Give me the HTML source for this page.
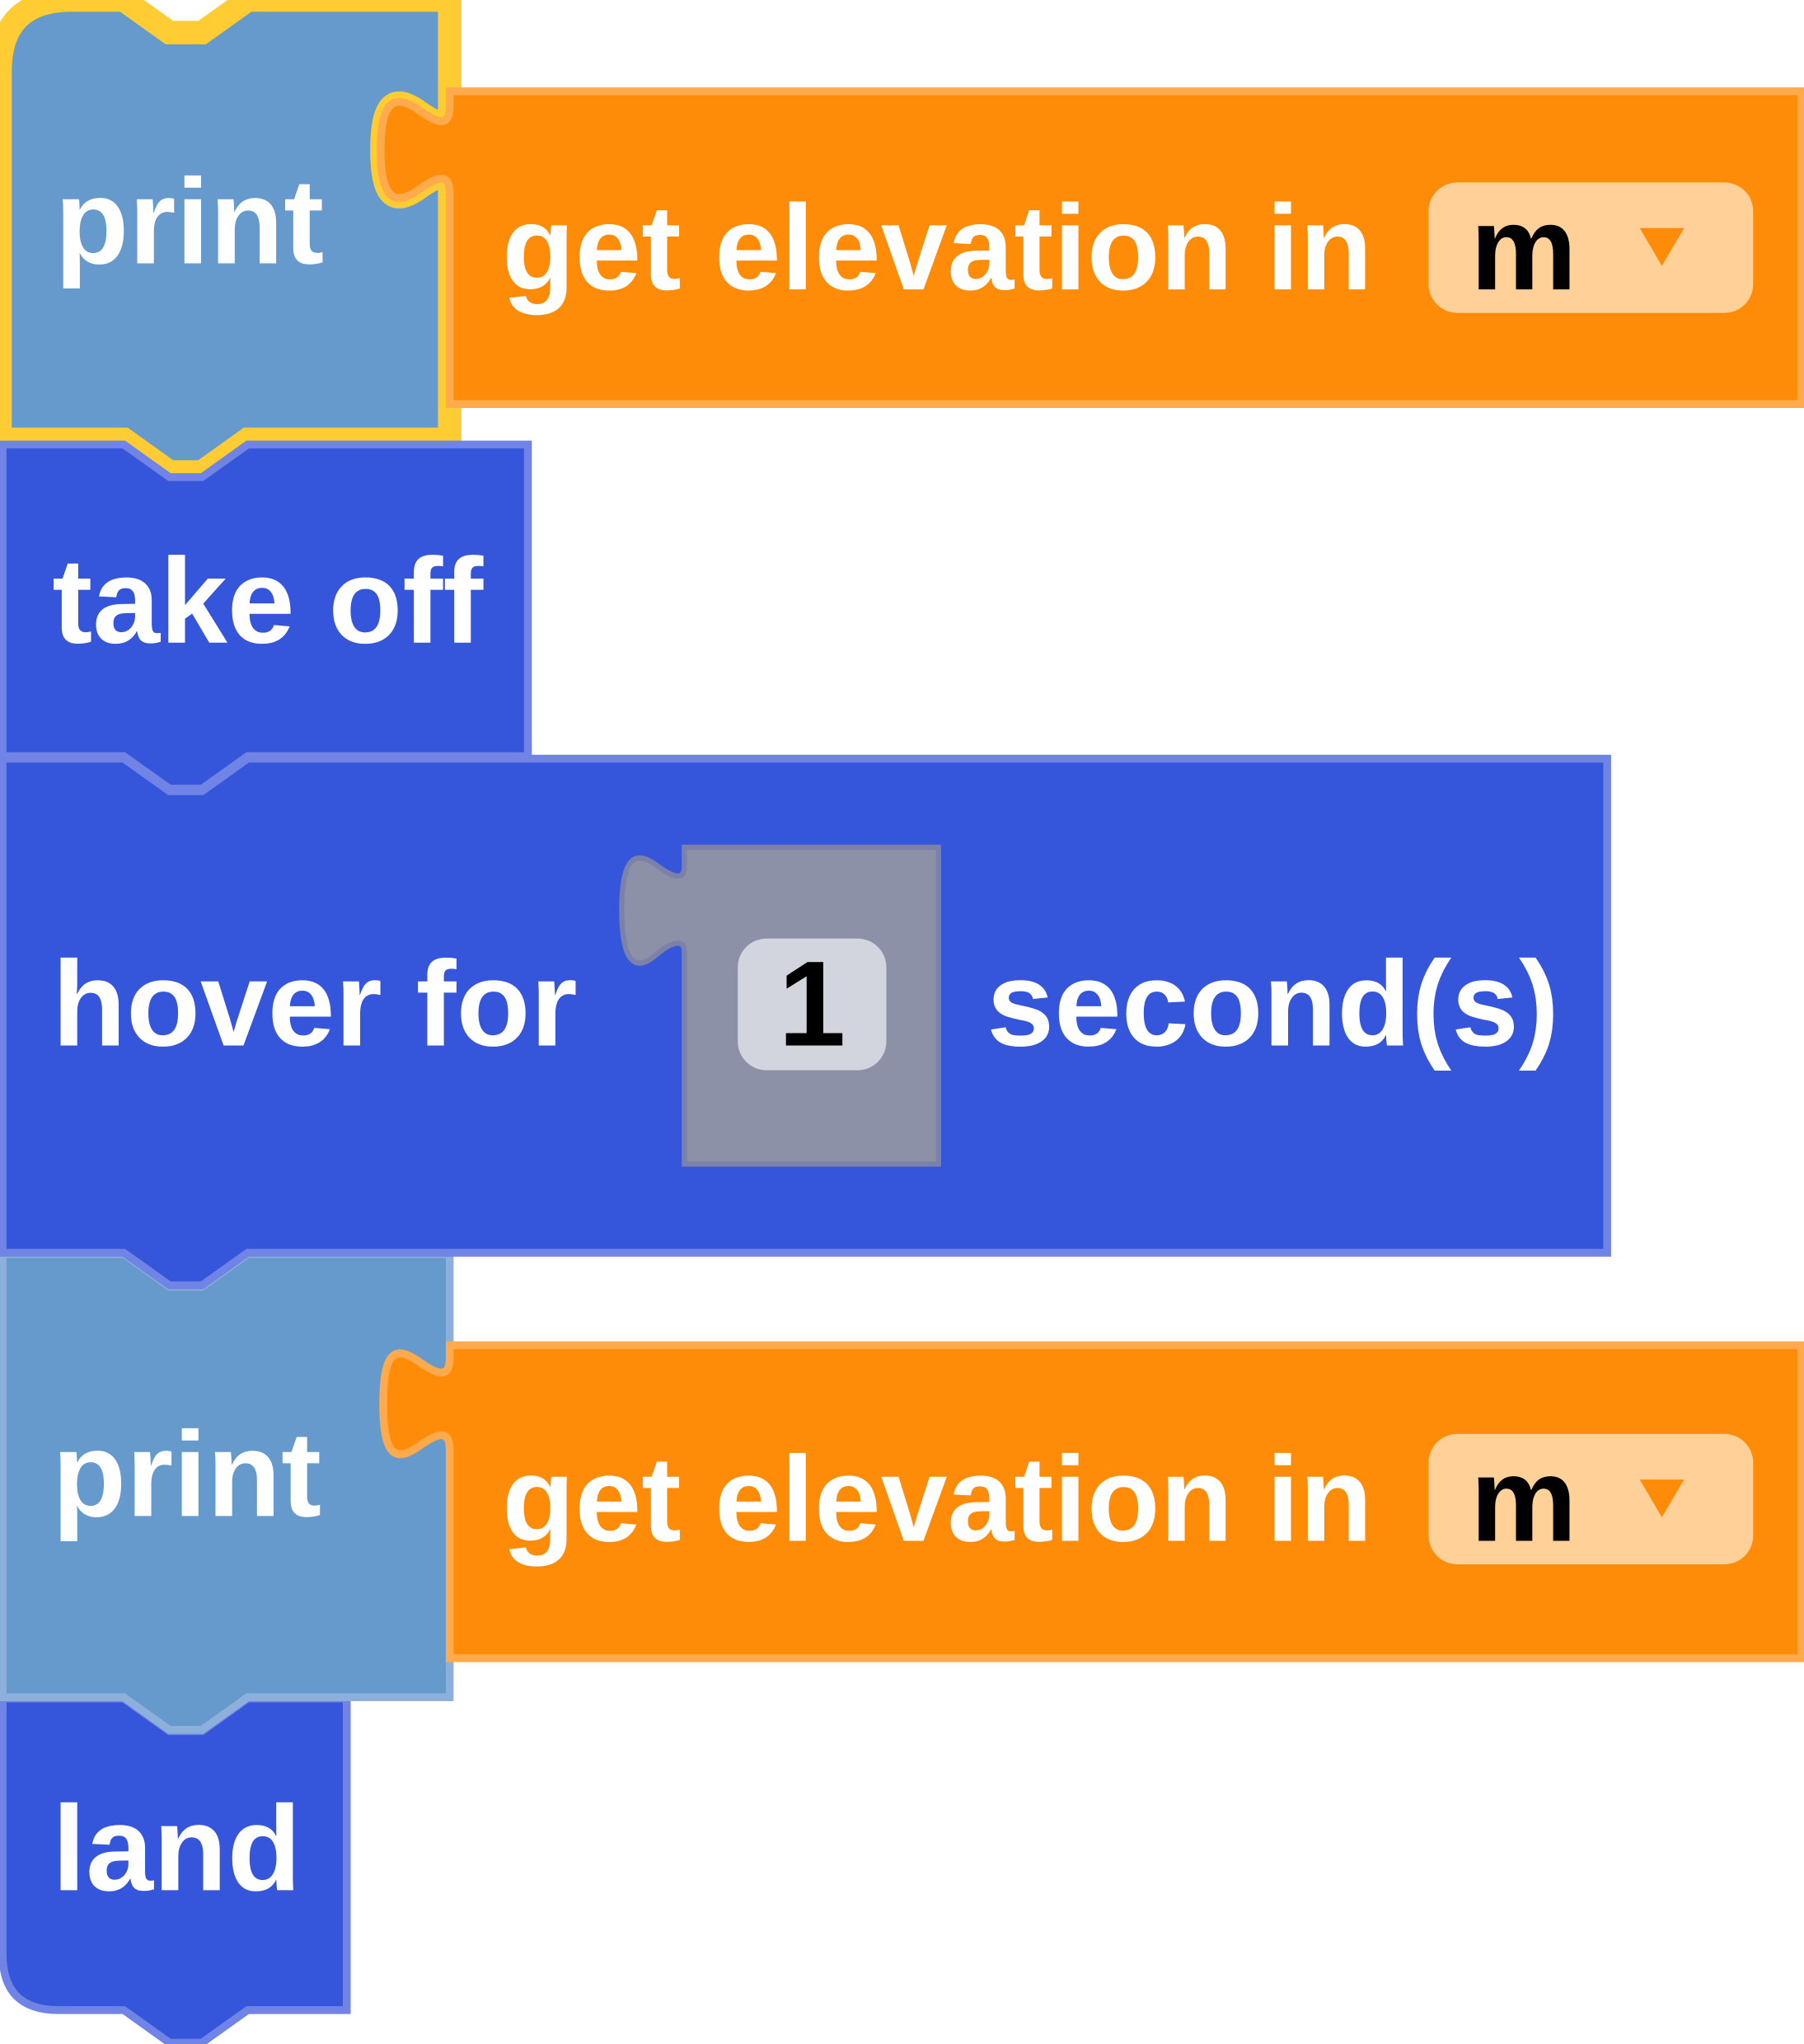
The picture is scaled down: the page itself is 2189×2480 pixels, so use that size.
<!DOCTYPE html>
<html><head><meta charset="utf-8"><style>html,body{margin:0;padding:0;background:#fff}svg{display:block}text{font-family:"Liberation Sans",sans-serif;font-weight:bold}</style></head>
<body>
<svg width="2189" height="2480" viewBox="0 0 1384 1568" xmlns="http://www.w3.org/2000/svg">
<!-- land -->
<path d="M2,1303 L95,1303 L130,1328 L155,1328 L190,1303 L266,1303 L266,1542 L190,1542 L155,1567 L130,1567 L95,1542 L45,1542 Q2,1542 2,1499 Z" fill="#3555DB" stroke="#6F84E4" stroke-width="6"/>
<text x="40" y="1450" font-size="93" fill="#fff">land</text>
<!-- print2 -->
<path d="M2,962 L95,962 L130,987 L155,987 L190,962 L345,962 L345,1302 L190,1302 L155,1327 L130,1327 L95,1302 L2,1302 Z" fill="#6699CC" stroke="#8CB0DA" stroke-width="6"/>
<text x="40" y="1163" font-size="93" fill="#fff">print</text>
<path d="M345,1032 L345,1042 C345,1060 332,1052 322,1045 C304,1032 294,1035 294,1077 C294,1118 304,1122 322,1109 C332,1102 345,1094 345,1112 L345,1272 L1382,1272 L1382,1032 Z" fill="#FF8C08" stroke="#FFAA4C" stroke-width="6"/>
<text x="385" y="1182" font-size="93" fill="#fff" textLength="668" lengthAdjust="spacingAndGlyphs">get elevation in</text>
<rect x="1096" y="1100" width="249" height="100" rx="22" fill="#FFD199"/>
<text x="1128" y="1182" font-size="92" fill="#000">m</text>
<polygon points="1258,1135 1292,1135 1275,1164" fill="#FF8C08"/>
<!-- hover -->
<path d="M2,582 L95,582 L130,607 L155,607 L190,582 L1233,582 L1233,961 L190,961 L155,986 L130,986 L95,961 L2,961 Z" fill="#3555DB" stroke="#6F84E4" stroke-width="6"/>
<text x="40" y="802" font-size="93" fill="#fff">hover for</text>
<path d="M525,650 L720,650 L720,893 L525,893 L525,730 C525,718 512,725 504,732 C488,746 477,740 477,698 C477,656 488,652 504,664 C512,670 525,678 525,665 Z" fill="#8C91A8" stroke="#7B81A8" stroke-width="4"/>
<rect x="566" y="720" width="114" height="101" rx="22" fill="#D2D5DD"/>
<text x="623" y="802" font-size="93" fill="#000" text-anchor="middle">1</text>
<text x="757" y="802" font-size="93" fill="#fff">second(s)</text>
<!-- print1 (selected) -->
<path d="M0,55 Q0,0 55,0 L95,0 L130,25 L155,25 L190,0 L345,0 L345,337 L190,337 L155,362 L130,362 L95,337 L0,337 Z" fill="#6699CC" stroke="#FFCC33" stroke-width="18"/>
<!-- take off (drawn over print1 bottom edge) -->
<path d="M2,341 L95,341 L130,366 L155,366 L190,341 L405,341 L405,580 L190,580 L155,605 L130,605 L95,580 L2,580 Z" fill="#3555DB" stroke="#6F84E4" stroke-width="6"/>
<text x="40" y="493" font-size="93" fill="#fff">take off</text>
<text x="42" y="202" font-size="93" fill="#fff">print</text>
<path d="M345,82 C345,100 332,92 322,85 C304,72 292,75 292,115 C292,155 304,158 322,145 C332,138 345,130 345,148" fill="none" stroke="#FFCC33" stroke-width="16"/>
<path d="M345,70 L345,82 C345,100 332,92 322,85 C304,72 292,75 292,115 C292,155 304,158 322,145 C332,138 345,130 345,148 L345,310 L1382,310 L1382,70 Z" fill="#FF8C08" stroke="#FFAA4C" stroke-width="6"/>
<text x="385" y="222" font-size="93" fill="#fff" textLength="668" lengthAdjust="spacingAndGlyphs">get elevation in</text>
<rect x="1096" y="140" width="249" height="100" rx="22" fill="#FFD199"/>
<text x="1128" y="222" font-size="92" fill="#000">m</text>
<polygon points="1258,175 1292,175 1275,204" fill="#FF8C08"/>
</svg>
</body></html>
